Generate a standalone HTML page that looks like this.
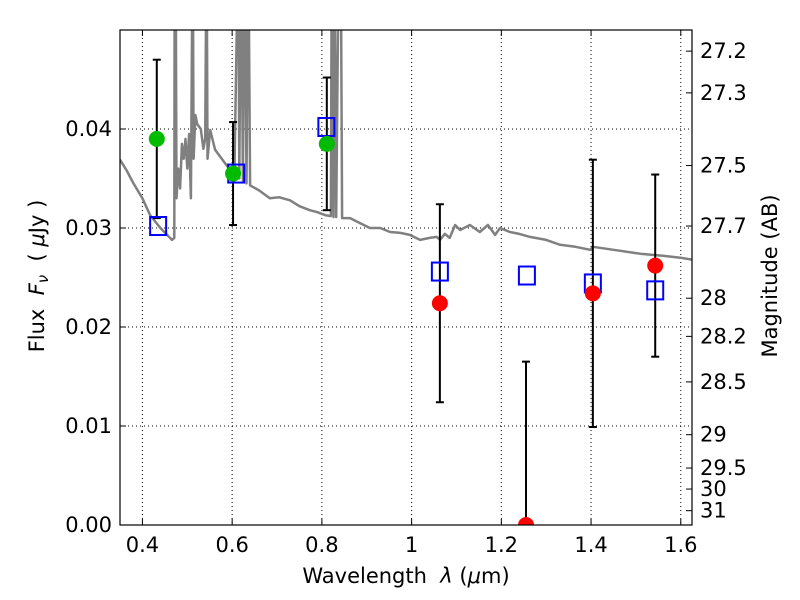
<!DOCTYPE html>
<html><head><meta charset="utf-8"><style>
html,body{margin:0;padding:0;background:#fff;overflow:hidden;width:800px;height:600px;}
svg{display:block;}
svg text{font-family:"DejaVu Sans","Liberation Sans",sans-serif;fill:#000;}
</style></head><body>
<svg id="chart" width="800" height="600" viewBox="0 0 800 600" xmlns="http://www.w3.org/2000/svg">
<defs><clipPath id="clip"><rect x="120" y="30" width="572" height="495"/></clipPath></defs>
<rect x="0" y="0" width="800" height="600" fill="#fff"/>
<g id="grid"></g>
<g id="plot" clip-path="url(#clip)"></g>
<rect x="120" y="30" width="572" height="495" fill="none" stroke="#000" stroke-width="1.2"/>
<g id="axes"></g>
<text x="406" y="583" font-size="21" text-anchor="middle">Wavelength&#160;&#160;<tspan font-style="italic">λ</tspan> (<tspan font-style="italic">μ</tspan>m)</text>
<text transform="translate(44,276) rotate(-90)" font-size="21" text-anchor="middle">Flux&#160;&#160;<tspan font-style="italic">F</tspan><tspan font-style="italic" font-size="15" dy="4">ν</tspan><tspan dy="-4">&#160;&#160;( </tspan><tspan font-style="italic">μ</tspan>Jy )</text>
<text transform="translate(777,276) rotate(-90)" font-size="21" text-anchor="middle">Magnitude (AB)</text>
</svg>
<script>
const specWave=[0.350,0.365,0.380,0.400,0.417,0.440,0.466,0.471,0.472,0.474,0.476,0.480,0.484,0.488,0.492,0.496,0.500,0.504,0.508,0.512,0.514,0.518,0.522,0.530,0.536,0.540,0.543,0.545,0.551,0.562,0.580,0.595,0.605,0.614,0.616,0.620,0.624,0.628,0.632,0.636,0.640,0.660,0.684,0.705,0.729,0.750,0.773,0.790,0.807,0.820,0.822,0.826,0.828,0.832,0.838,0.842,0.845,0.863,0.885,0.907,0.930,0.952,0.975,0.996,1.019,1.040,1.056,1.063,1.074,1.085,1.097,1.108,1.130,1.152,1.170,1.186,1.197,1.219,1.240,1.264,1.300,1.331,1.365,1.398,1.404,1.450,1.509,1.560,1.599,1.625];
const specFlux=[0.0369,0.0358,0.0345,0.0330,0.0313,0.0300,0.0288,0.0290,0.06,0.06,0.0330,0.0360,0.0340,0.0385,0.0370,0.0390,0.0360,0.0395,0.0330,0.06,0.0370,0.0414,0.0405,0.0400,0.0380,0.0390,0.06,0.0370,0.0399,0.0379,0.0368,0.0359,0.0355,0.06,0.0350,0.06,0.0348,0.06,0.0345,0.06,0.0343,0.0338,0.0330,0.0331,0.0328,0.0322,0.0318,0.0316,0.0313,0.0312,0.06,0.0311,0.06,0.0311,0.06,0.06,0.0310,0.0310,0.0305,0.0300,0.0300,0.0296,0.0295,0.0293,0.0288,0.0290,0.0291,0.0288,0.0294,0.0290,0.0303,0.0298,0.0303,0.0296,0.0303,0.0293,0.0300,0.0296,0.0294,0.0291,0.0288,0.0283,0.0281,0.0278,0.0281,0.0278,0.0274,0.0272,0.0270,0.0268];
const obsWave=[0.432,0.602,0.811,1.063,1.255,1.404,1.543];
const obsFlux=[0.0390,0.0355,0.0385,0.0224,0.0000,0.0234,0.0262];
const obsErr=[0.0080,0.0052,0.0067,0.0100,0.0165,0.0135,0.0092];
const obsColor=['#00bb00','#00bb00','#00bb00','#ff0000','#ff0000','#ff0000','#ff0000'];
const modelWave=[0.435,0.609,0.810,1.063,1.257,1.404,1.543];
const modelFlux=[0.0302,0.0355,0.0402,0.0256,0.0252,0.0244,0.0237];
const xTicks=[0.4,0.6,0.8,1.0,1.2,1.4,1.6];
const xTickLabels=['0.4','0.6','0.8','1','1.2','1.4','1.6'];
const yTicks=[0,0.01,0.02,0.03,0.04];
const yTickLabels=['0.00','0.01','0.02','0.03','0.04'];
const magTicks=[27.2,27.3,27.5,27.7,28,28.2,28.5,29,29.5,30,31];

const X0=0.35,X1=1.625,Y0=0,Y1=0.05,L=120,R=692,T=30,B=525;
const sx=v=>L+(v-X0)/(X1-X0)*(R-L);
const sy=v=>B-(v-Y0)/(Y1-Y0)*(B-T);
const NS='http://www.w3.org/2000/svg';
function mk(tag,attrs,parent){const e=document.createElementNS(NS,tag);for(const k in attrs)e.setAttribute(k,attrs[k]);parent.appendChild(e);return e;}
const grid=document.getElementById('grid'),plot=document.getElementById('plot'),axes=document.getElementById('axes');

xTicks.forEach((t,i)=>{
  const x=sx(t);
  const g=mk('line',{x1:x,x2:x,y1:T,y2:B,stroke:'#000','stroke-width':1,'stroke-dasharray':'1,3'},grid);
  
  
  mk('line',{x1:x,x2:x,y1:B,y2:B-6,stroke:'#000'},axes);
  mk('line',{x1:x,x2:x,y1:T,y2:T+6,stroke:'#000'},axes);
  const tx=mk('text',{x:x,y:B+27,'font-size':21,'text-anchor':'middle'},axes);
  tx.textContent=xTickLabels[i];
  
  
});
yTicks.forEach((t,i)=>{
  const y=sy(t);
  const g=mk('line',{x1:L,x2:R,y1:y,y2:y,stroke:'#000','stroke-width':1,'stroke-dasharray':'1,3'},grid);
  
  
  mk('line',{x1:L,x2:L+6,y1:y,y2:y,stroke:'#000'},axes);
  const tx=mk('text',{x:L-8,y:y+7,'font-size':21,'text-anchor':'end'},axes);
  tx.textContent=yTickLabels[i];
  
  
});
magTicks.forEach(m=>{
  const f=Math.pow(10,(23.9-m)/2.5);
  const y=sy(f);
  mk('line',{x1:R-6,x2:R,y1:y,y2:y,stroke:'#000'},axes);
  const tx=mk('text',{x:R+8,y:y+7,'font-size':21},axes);
  tx.textContent=String(m);
  
  
});

const pts=specWave.map((w,i)=>sx(w).toFixed(1)+','+sy(specFlux[i]).toFixed(1)).join(' ');
const sp=mk('polyline',{points:pts,fill:'none',stroke:'#808080','stroke-width':2.5,'stroke-linejoin':'round'},plot);



obsWave.forEach((w,i)=>{
  const x=sx(w),y1=sy(obsFlux[i]+obsErr[i]),y2=sy(obsFlux[i]-obsErr[i]);
  const eb=mk('g',{},plot);
  
  
  mk('line',{x1:x,x2:x,y1:y1,y2:y2,stroke:'#000','stroke-width':2},eb);
  mk('line',{x1:x-4,x2:x+4,y1:y1,y2:y1,stroke:'#000','stroke-width':2},eb);
  mk('line',{x1:x-4,x2:x+4,y1:y2,y2:y2,stroke:'#000','stroke-width':2},eb);
});
modelWave.forEach((w,i)=>{
  const r=mk('rect',{x:sx(w)-8,y:sy(modelFlux[i])-9,width:16,height:18,fill:'none',stroke:'#0000ff','stroke-width':2},plot);
  
  
});
obsWave.forEach((w,i)=>{
  const c=mk('circle',{cx:sx(w),cy:sy(obsFlux[i]),r:8,fill:obsColor[i]},plot);
  
  
});
</script>
</body></html>
